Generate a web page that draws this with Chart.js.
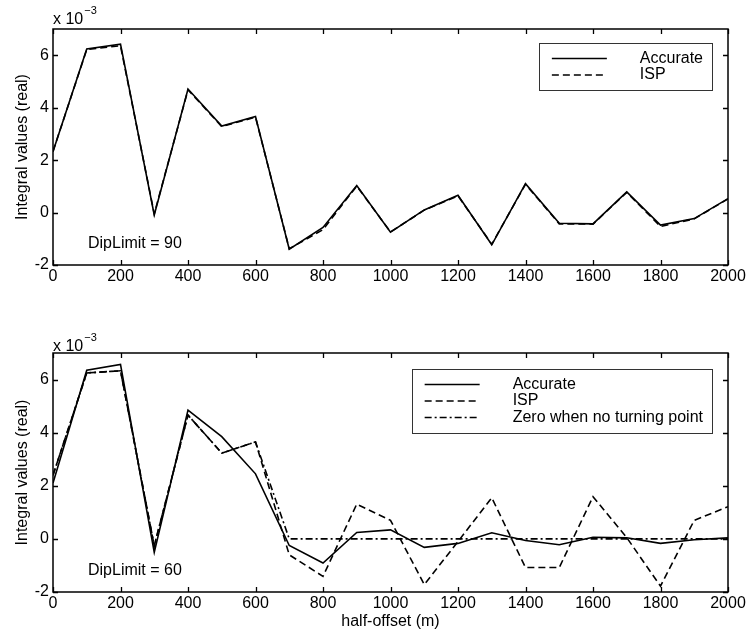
<!DOCTYPE html>
<html>
<head>
<meta charset="utf-8">
<script src="https://cdn.jsdelivr.net/npm/chart.js@4.4.1/dist/chart.umd.min.js"></script>
<style>
  html, body { margin: 0; padding: 0; background: #fff; }
  #wrap { position: relative; width: 748px; height: 632px; }
  canvas { position: absolute; left: 0; }
  #top { top: 0; }
  #bottom { top: 316px; }
</style>
</head>
<body>
<div id="wrap">
  <canvas id="top" width="748" height="300"></canvas>
  <canvas id="bottom" width="748" height="316"></canvas>
</div>
<script>
// half-offset (m)
const offsets = [0, 100, 200, 300, 400, 500, 600, 700, 800, 900, 1000,
  1100, 1200, 1300, 1400, 1500, 1600, 1700, 1800, 1900, 2000];

// DipLimit = 90  (values x 1e-3)
const accurate90 = [2.33, 6.24, 6.42, -0.09, 4.71, 3.30, 3.66, -1.40, -0.57, 1.03, -0.75,
  0.10, 0.66, -1.23, 1.10, -0.41, -0.43, 0.79, -0.48, -0.23, 0.53];
const isp90 = [2.33, 6.22, 6.36, -0.05, 4.68, 3.28, 3.64, -1.38, -0.65, 1.01, -0.74,
  0.09, 0.64, -1.21, 1.08, -0.43, -0.44, 0.77, -0.53, -0.24, 0.52];

// DipLimit = 60
const accurate60 = [2.10, 6.35, 6.57, -0.51, 4.85, 3.85, 2.45, -0.25, -0.91, 0.24, 0.34,
  -0.32, -0.17, 0.23, -0.06, -0.22, 0.06, 0.04, -0.17, -0.03, 0.04];
const isp60 = [2.40, 6.25, 6.33, -0.26, 4.66, 3.23, 3.65, -0.60, -1.41, 1.31, 0.70,
  -1.72, -0.10, 1.55, -1.08, -1.08, 1.59, 0.05, -1.78, 0.70, 1.21];
const zeroNoTurn60 = [2.40, 6.25, 6.33, -0.26, 4.66, 3.23, 3.65, 0, 0, 0, 0,
  0, 0, 0, 0, 0, 0, 0, 0, 0, 0];

const xTicks = [0, 200, 400, 600, 800, 1000, 1200, 1400, 1600, 1800, 2000];
const yTicks = [-2, 0, 2, 4, 6];

const FONT = "'Liberation Sans', Arial, Helvetica, sans-serif";
Chart.defaults.font.family = FONT;
Chart.defaults.font.size = 16;
Chart.defaults.color = "#000";

const SOLID = [];
const DASH = [7, 4];
const DASHDOT = [7, 3, 2, 3];

function series(ys) {
  return offsets.map((x, i) => ({ x: x, y: ys[i] }));
}

function line(label, ys, dash) {
  return {
    label: label,
    data: series(ys),
    borderColor: "#000",
    borderWidth: 1.6,
    borderDash: dash,
    pointRadius: 0,
    tension: 0,
    fill: false
  };
}

// box, inward ticks on all sides, exponent, note text and legend box
const matlabAxes = {
  id: "matlabAxes",
  afterDatasetsDraw(chart, args, opts) {
    const ctx = chart.ctx;
    const a = chart.chartArea;
    const xs = chart.scales.x;
    const ys = chart.scales.y;
    const tl = 5;
    ctx.save();
    ctx.strokeStyle = "#000";
    ctx.lineWidth = 1.5;
    ctx.strokeRect(a.left, a.top, a.right - a.left, a.bottom - a.top);

    ctx.lineWidth = 1.3;
    ctx.beginPath();
    xTicks.forEach(v => {
      const px = Math.round(xs.getPixelForValue(v)) + 0.5;
      ctx.moveTo(px, a.bottom); ctx.lineTo(px, a.bottom - tl);
      ctx.moveTo(px, a.top); ctx.lineTo(px, a.top + tl);
    });
    yTicks.forEach(v => {
      const py = Math.round(ys.getPixelForValue(v)) + 0.5;
      ctx.moveTo(a.left, py); ctx.lineTo(a.left + tl, py);
      ctx.moveTo(a.right, py); ctx.lineTo(a.right - tl, py);
    });
    ctx.stroke();

    // exponent label
    ctx.fillStyle = "#000";
    ctx.textBaseline = "alphabetic";
    ctx.textAlign = "left";
    ctx.font = "16px " + FONT;
    ctx.fillText("x 10", a.left, a.top - opts.expGap);
    const w = ctx.measureText("x 10").width;
    ctx.font = "11px " + FONT;
    ctx.fillText("\u22123", a.left + w + 1, a.top - opts.expGap - 10);

    // DipLimit note
    ctx.font = "16px " + FONT;
    ctx.textBaseline = "middle";
    ctx.fillText(opts.note, a.left + 35, a.bottom - 21);

    // legend
    const items = chart.data.datasets;
    let maxW = 0;
    items.forEach(d => { maxW = Math.max(maxW, ctx.measureText(d.label).width); });
    const bw = 101 + maxW + 9;
    const rowH = 16.5;
    const bh = items.length * rowH + 14;
    const bx = a.right - 16 - bw;
    const by = a.top + opts.legendTop;
    ctx.fillStyle = "#fff";
    ctx.fillRect(bx, by, bw, bh);
    ctx.strokeStyle = "#333";
    ctx.lineWidth = 1;
    ctx.strokeRect(Math.round(bx) + 0.5, Math.round(by) + 0.5, Math.round(bw), Math.round(bh));
    items.forEach((d, i) => {
      const ry = by + 15.5 + i * rowH;
      ctx.strokeStyle = "#000";
      ctx.lineWidth = 1.6;
      ctx.setLineDash(d.borderDash);
      ctx.beginPath();
      ctx.moveTo(bx + 13, ry);
      ctx.lineTo(bx + 68, ry);
      ctx.stroke();
      ctx.setLineDash([]);
      ctx.fillStyle = "#000";
      ctx.fillText(d.label, bx + 101, ry);
    });
    ctx.restore();
  }
};

function makeChart(id, datasets, note, cfg) {
  return new Chart(document.getElementById(id), {
    type: "line",
    data: { datasets: datasets },
    options: {
      responsive: false,
      animation: false,
      layout: { padding: { top: cfg.padTop, right: 20, left: 0, bottom: 0 } },
      plugins: {
        legend: { display: false },
        tooltip: { enabled: false },
        matlabAxes: { note: note, expGap: cfg.expGap, legendTop: cfg.legendTop }
      },
      scales: {
        x: {
          type: "linear",
          min: 0,
          max: 2000,
          grid: { display: false, drawTicks: false },
          border: { display: false },
          ticks: {
            stepSize: 200, padding: 2, maxRotation: 0, includeBounds: false,
            callback: v => String(v)
          },
          title: {
            display: cfg.xTitle,
            text: "half-offset (m)",
            padding: { top: 0, bottom: 1 }
          },
          afterFit: s => { s.height = cfg.xHeight; }
        },
        y: {
          min: -2,
          max: 7,
          grid: { display: false, drawTicks: false },
          border: { display: false },
          ticks: { stepSize: 2, padding: 4, includeBounds: false, callback: v => String(v) },
          title: {
            display: true,
            text: "Integral values (real)",
            padding: { top: 13, bottom: 0 }
          },
          afterFit: s => { s.width = 53; }
        }
      }
    },
    plugins: [matlabAxes]
  });
}

makeChart("top", [
  line("Accurate", accurate90, SOLID),
  line("ISP", isp90, DASH)
], "DipLimit = 90", { padTop: 29, xHeight: 35, xTitle: false, expGap: 5, legendTop: 14 });

makeChart("bottom", [
  line("Accurate", accurate60, SOLID),
  line("ISP", isp60, DASH),
  line("Zero when no turning point", zeroNoTurn60, DASHDOT)
], "DipLimit = 60", { padTop: 37, xHeight: 40, xTitle: true, expGap: 2, legendTop: 16 });
</script>
</body>
</html>
